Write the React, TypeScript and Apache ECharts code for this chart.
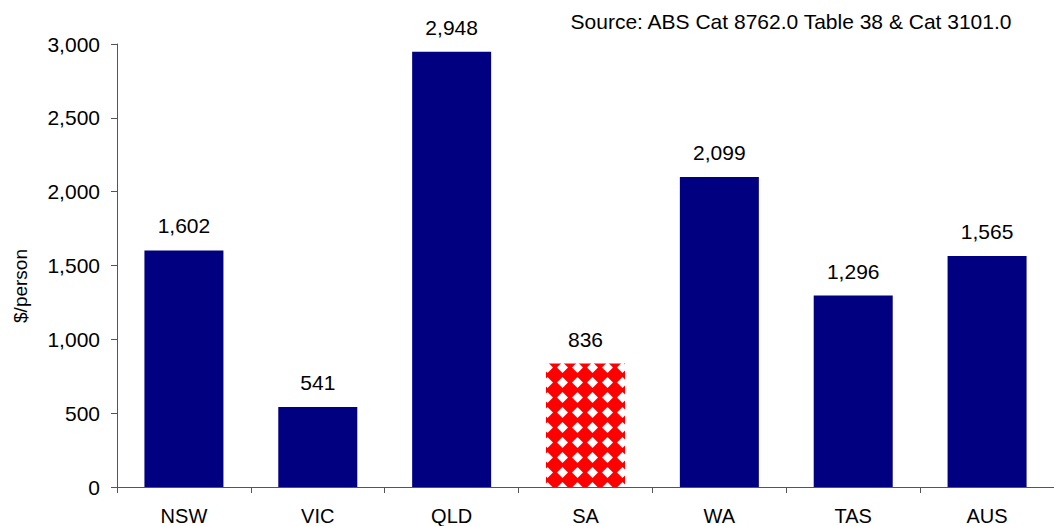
import React, { useEffect, useRef } from "react";
import * as echarts from "echarts";

const categories = ["NSW", "VIC", "QLD", "SA", "WA", "TAS", "AUS"];
const values = [1602, 541, 2948, 836, 2099, 1296, 1565];
const highlighted = "SA";
const yTicks = { min: 0, max: 3000, interval: 500 };
const yAxisTitle = "$/person";
const sourceNote = "Source: ABS Cat 8762.0 Table 38 & Cat 3101.0";

function makePattern(): HTMLCanvasElement {
  const s = 15;
  const c = document.createElement("canvas");
  c.width = s;
  c.height = s;
  const ctx = c.getContext("2d")!;
  ctx.fillStyle = "#ff0000";
  ctx.fillRect(0, 0, s, s);
  ctx.fillStyle = "#ffffff";
  const m = s / 2;
  const r = 5.5;
  ctx.beginPath();
  ctx.moveTo(m, m - r);
  ctx.lineTo(m + r, m);
  ctx.lineTo(m, m + r);
  ctx.lineTo(m - r, m);
  ctx.closePath();
  ctx.fill();
  return c;
}

export default function App() {
  const ref = useRef<HTMLDivElement>(null);
  useEffect(() => {
    if (!ref.current) return;
    const chart = echarts.init(ref.current, null, { renderer: "svg" });
    const pat = makePattern();
    const font = "'Liberation Sans', Arial, sans-serif";
    const data = values.map((v, i) =>
      categories[i] === highlighted
        ? {
            value: v,
            itemStyle: {
              color: { image: pat, repeat: "repeat", imageWidth: 15, imageHeight: 15 } as any,
            },
          }
        : v
    );
    chart.setOption({
      animation: false,
      backgroundColor: "#ffffff",
      textStyle: { fontFamily: font },
      grid: { left: 117, top: 44, bottom: 39, width: 945, containLabel: false },
      xAxis: {
        type: "category",
        data: categories,
        boundaryGap: true,
        axisLine: { lineStyle: { color: "#555555", width: 1 } },
        axisTick: { show: true, length: 6, lineStyle: { color: "#555555" } },
        axisLabel: { color: "#000", fontSize: 20, margin: 19, fontFamily: font },
      },
      yAxis: {
        type: "value",
        min: yTicks.min,
        max: yTicks.max,
        interval: yTicks.interval,
        axisLine: { show: true, lineStyle: { color: "#555555", width: 1 } },
        axisTick: { show: true, length: 6, lineStyle: { color: "#555555" } },
        axisLabel: {
          color: "#000",
          fontSize: 21,
          margin: 17,
          fontFamily: font,
          formatter: (v: number) => v.toLocaleString("en-US"),
        },
        splitLine: { show: false },
      },
      graphic: [
        {
          type: "text",
          right: 41,
          top: 11,
          style: { text: sourceNote, fill: "#000", fontSize: 21, fontFamily: font },
        },
        {
          type: "text",
          x: 20,
          y: 286,
          rotation: Math.PI / 2,
          style: {
            text: yAxisTitle,
            fill: "#000",
            fontSize: 19,
            fontFamily: font,
            align: "center",
            verticalAlign: "middle",
          },
        },
      ],
      series: [
        {
          type: "bar",
          data,
          barWidth: 79,
          itemStyle: { color: "#000080" },
          label: {
            show: true,
            position: "top",
            distance: 14,
            color: "#000",
            fontSize: 21,
            fontFamily: font,
            formatter: (p: any) => Number(p.value).toLocaleString("en-US"),
          },
        },
      ],
    });
    return () => chart.dispose();
  }, []);
  return <div ref={ref} style={{ width: 1054, height: 526, position: "absolute", left: 0, top: 0 }} />;
}
